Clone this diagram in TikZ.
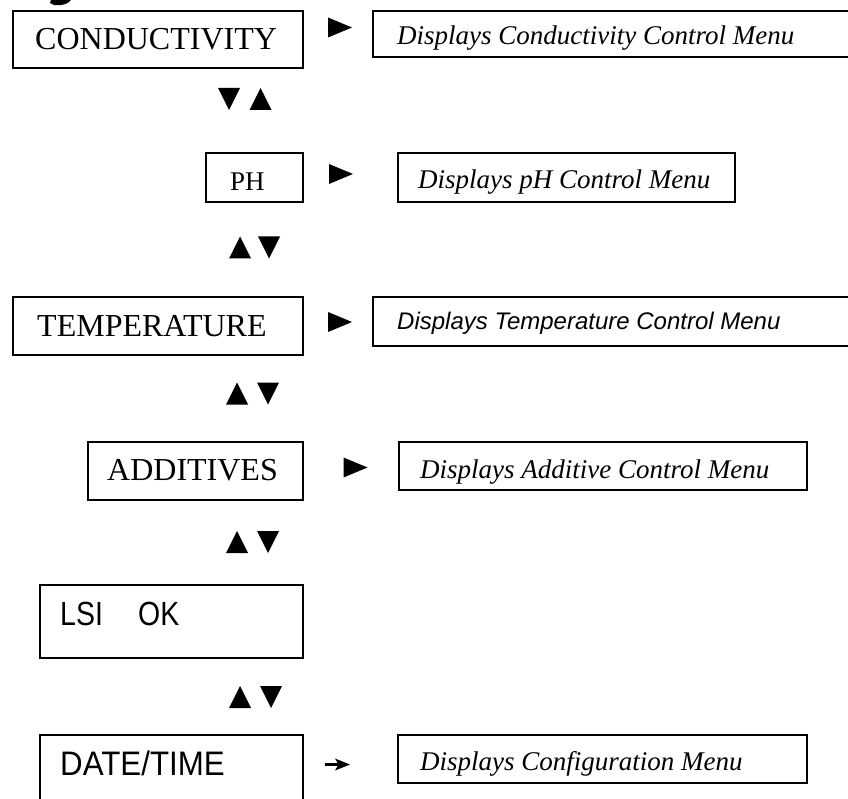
\documentclass[tikz,border=0pt]{standalone}
\usepackage{fontspec}
\usepackage{graphicx}
\setmainfont{Liberation Serif}
\newfontfamily\menuserif{Liberation Serif}
\newfontfamily\menusans{Liberation Sans}
\begin{document}
\begin{tikzpicture}[x=1pt,y=-1pt,
  menubox/.style={draw=black, line width=1.6pt, rectangle, inner sep=0pt},
  keylabel/.style={anchor=base west, inner sep=0pt, font=\fontsize{32}{32}\selectfont\menuserif},
  lcdlabel/.style={anchor=base west, inner sep=0pt, font=\fontsize{33.5}{34}\selectfont\menusans},
  desclabel/.style={anchor=base west, inner sep=0pt, font=\fontsize{27}{27}\selectfont\menuserif\itshape},
  descsans/.style={anchor=base west, inner sep=0pt, font=\fontsize{24}{24}\selectfont\menusans\itshape},
  triright/.pic={\fill (-12,-10) -- (12,0) -- (-12,10) -- cycle;},
  triup/.pic={\fill (-11,11) -- (0,-11) -- (11,11) -- cycle;},
  tridown/.pic={\fill (-11,-11) -- (11,-11) -- (0,11) -- cycle;}
]
\useasboundingbox (0,0) rectangle (848,799);

% tail of the heading glyph above the menu
\fill (51,0) -- (71,0) .. controls (68,4) and (62,6) .. (54,5) -- (50,3) -- cycle;

% ---- CONDUCTIVITY ----
\node[menubox, minimum width=290pt, minimum height=57pt] (cond) at (158,39.5) {};
\node[keylabel] (condtxt) at (35,50) {CONDUCTIVITY};
\pic at (340,27.5) {triright};
\node[menubox, minimum width=487pt, minimum height=46pt] (conddesc) at (616.5,34) {};
\node[desclabel] (conddesctxt) at (397,45) {Displays Conductivity Control Menu};

\pic at (229,99) {tridown};
\pic at (260.5,99) {triup};

% ---- PH ----
\node[menubox, minimum width=97pt, minimum height=49pt] (ph) at (254.5,177.5) {};
\node[keylabel, font=\fontsize{27}{27}\selectfont\menuserif] (phtxt) at (230,191) {PH};
\pic at (341,174) {triright};
\node[menubox, minimum width=337pt, minimum height=49pt] (phdesc) at (566.5,177.5) {};
\node[desclabel] (phdesctxt) at (418,189) {Displays pH Control Menu};

\pic at (240,247.5) {triup};
\pic at (269,247.5) {tridown};

% ---- TEMPERATURE ----
\node[menubox, minimum width=290pt, minimum height=58pt] (temp) at (158,326) {};
\node[keylabel] (temptxt) at (37,337) {TEMPERATURE};
\pic at (340,322) {triright};
\node[menubox, minimum width=487pt, minimum height=49pt] (tempdesc) at (616.5,321.5) {};
\node[descsans] (tempdesctxt) at (397,330) {Displays Temperature Control Menu};

\pic at (237,393.5) {triup};
\pic at (268,393.5) {tridown};

% ---- ADDITIVES ----
\node[menubox, minimum width=215pt, minimum height=58pt] (add) at (195.5,471) {};
\node[keylabel] (addtxt) at (107,480) {ADDITIVES};
\pic at (355.5,467.5) {triright};
\node[menubox, minimum width=408pt, minimum height=48pt] (adddesc) at (603,466) {};
\node[desclabel] (adddesctxt) at (420,478) {Displays Additive Control Menu};

\pic at (237,542) {triup};
\pic at (268,542) {tridown};

% ---- LSI ----
\node[menubox, minimum width=263pt, minimum height=73pt] (lsi) at (171.5,621.5) {};
\node[lcdlabel] (lsitxt) at (60,625) {\scalebox{0.85}[1]{LSI}};
\node[lcdlabel] (oktxt) at (138,625) {\scalebox{0.85}[1]{OK}};

\pic at (240,697) {triup};
\pic at (271,697) {tridown};

% ---- DATE/TIME ----
\node[menubox, minimum width=263pt, minimum height=95pt] (date) at (171.5,782.5) {};
\node[lcdlabel, font=\fontsize{34}{34}\selectfont\menusans] (datetxt) at (60,775) {\scalebox{0.92}[1]{DATE/TIME}};
\draw[line width=3.5pt] (325,764.5) -- (340,764.5);
\fill (335,758.5) -- (350,764.5) -- (335,770.5) -- (338.5,764.5) -- cycle;
\node[menubox, minimum width=409pt, minimum height=48pt] (confdesc) at (602.5,759) {};
\node[desclabel] (confdesctxt) at (420,770) {Displays Configuration Menu};
\end{tikzpicture}
\end{document}
